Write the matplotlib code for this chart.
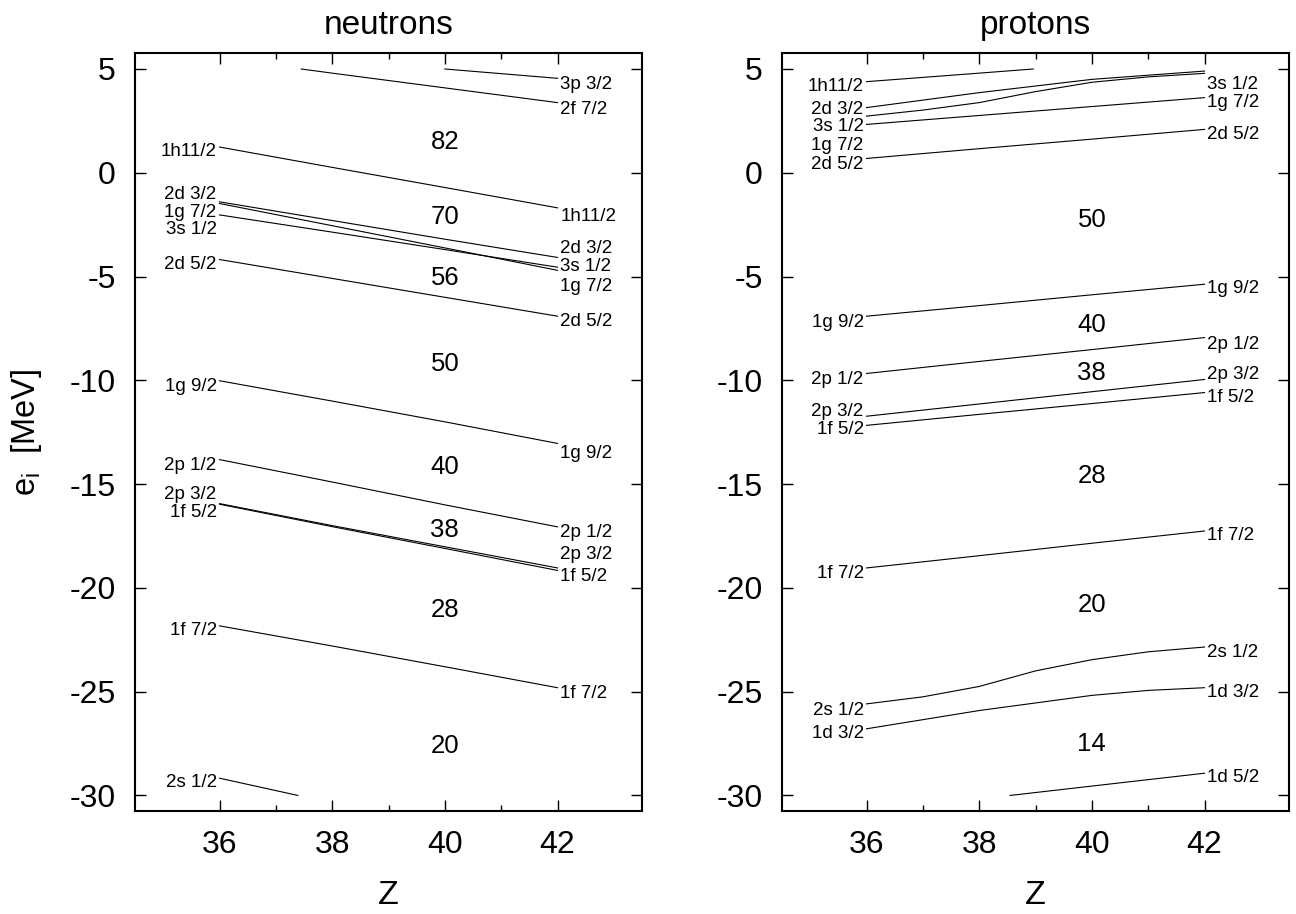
import matplotlib.pyplot as plt

plt.rcParams['font.family'] = ['Liberation Sans', 'DejaVu Sans']
plt.rcParams['mathtext.fontset'] = 'custom'
plt.rcParams['mathtext.rm'] = 'Liberation Sans'
plt.rcParams['mathtext.it'] = 'Liberation Sans:italic'
plt.rcParams['axes.unicode_minus'] = False

# neutron single-particle levels vs Z
n_names = ["3p 3/2", "2f 7/2", "1h11/2", "2d 3/2", "1g 7/2", "3s 1/2", "2d 5/2",
           "1g 9/2", "2p 1/2", "2p 3/2", "1f 5/2", "1f 7/2", "2s 1/2"]
n_z = [[40, 42], [37.45, 38, 40, 42], [36, 38, 40, 42], [36, 38, 40, 42],
       [36, 38, 40, 42], [36, 38, 40, 42], [36, 38, 40, 42], [36, 38, 40, 42],
       [36, 38, 40, 42], [36, 38, 40, 42], [36, 38, 40, 42], [36, 38, 40, 42],
       [36, 37.39]]
n_e = [[5.0, 4.55], [5.0, 4.80, 4.09, 3.38], [1.24, 0.26, -0.71, -1.69],
       [-1.40, -2.30, -3.20, -4.08], [-1.48, -2.55, -3.62, -4.70],
       [-2.03, -2.86, -3.70, -4.55], [-4.18, -5.09, -6.00, -6.91],
       [-10.02, -11.0, -12.0, -13.04], [-13.82, -14.9, -16.0, -17.06],
       [-15.94, -17.0, -18.02, -19.04], [-15.97, -17.05, -18.1, -19.16],
       [-21.83, -22.8, -23.8, -24.81], [-29.17, -30.0]]
n_left = [None, None, 1.01, -1.04, -1.91, -2.71, -4.40,
          -10.28, -14.09, -15.51, -16.39, -22.05, -29.39]
n_right = [4.26, 3.06, -2.12, -3.65, -5.50, -4.50, -7.18,
           -13.53, -17.31, -18.40, -19.45, -25.07, None]
n_magic = ["82", "70", "56", "50", "40", "38", "28", "20"]
n_magic_e = [1.5, -2.12, -5.09, -9.19, -14.17, -17.23, -21.09, -27.64]

# proton single-particle levels vs Z
p_names = ["1h11/2", "2d 3/2", "3s 1/2", "1g 7/2", "2d 5/2", "1g 9/2", "2p 1/2",
           "2p 3/2", "1f 5/2", "1f 7/2", "2s 1/2", "1d 3/2", "1d 5/2"]
p_z = [[36, 38, 38.96], [36, 38, 40, 42], [36, 37, 38, 39, 40, 41, 42],
       [36, 38, 40, 42], [36, 38, 40, 42], [36, 38, 40, 42], [36, 38, 40, 42],
       [36, 38, 40, 42], [36, 38, 40, 42], [36, 38, 40, 42],
       [36, 37, 38, 39, 40, 41, 42], [36, 38, 40, 41, 42], [38.55, 40, 42]]
p_e = [[4.39, 4.80, 5.0], [3.14, 3.86, 4.50, 4.90],
       [2.73, 3.02, 3.38, 3.91, 4.36, 4.62, 4.79],
       [2.33, 2.76, 3.19, 3.62], [0.69, 1.16, 1.62, 2.09],
       [-6.91, -6.40, -5.88, -5.37], [-9.67, -9.09, -8.52, -7.94],
       [-11.73, -11.14, -10.55, -9.96], [-12.17, -11.64, -11.12, -10.59],
       [-19.04, -18.45, -17.85, -17.26],
       [-25.59, -25.25, -24.75, -24.0, -23.46, -23.08, -22.85],
       [-26.79, -25.91, -25.18, -24.94, -24.81], [-30.0, -29.55, -28.93]]
p_left = [4.15, 3.06, 2.25, 1.29, 0.42, -7.23, -9.96,
          -11.49, -12.37, -19.31, -25.9, -27.03, None]
p_right = [None, None, 4.23, 3.38, 1.82, -5.58, -8.26,
           -9.71, -10.85, -17.5, -23.1, -25.02, -29.15]
p_magic = ["50", "40", "38", "28", "20", "14"]
p_magic_e = [-2.28, -7.34, -9.64, -14.61, -20.84, -27.51]


def draw_panel(ax, title, names, zs, es, left, right, magic, magic_e):
    for i in range(len(names)):
        ax.plot(zs[i], es[i], color='black', linewidth=0.8)
        if left[i] is not None:
            ax.text(35.95, left[i], names[i], ha='right', va='center', fontsize=13.5)
        if right[i] is not None:
            ax.text(42.05, right[i], names[i], ha='left', va='center', fontsize=13.5)
    for i in range(len(magic)):
        ax.text(40, magic_e[i], magic[i], ha='center', va='center', fontsize=18.5)
    ax.set_xlim(34.5, 43.5)
    ax.set_ylim(-30.75, 5.77)
    ax.set_xticks([36, 38, 40, 42])
    ax.set_xticks([37, 39, 41], minor=True)
    ax.set_yticks([-30, -25, -20, -15, -10, -5, 0, 5])
    ax.tick_params(which='both', direction='in', top=True, right=True,
                   labelsize=23, width=1.0)
    ax.tick_params(which='major', length=8, pad=14)
    ax.tick_params(which='minor', length=4)
    for s in ax.spines.values():
        s.set_linewidth(1.5)
    ax.set_title(title, fontsize=24, pad=14)
    ax.set_xlabel("Z", fontsize=24.5, labelpad=14)


fig = plt.figure(figsize=(12.96, 9.14), dpi=100)
ax1 = fig.add_axes([0.1042, 0.1127, 0.3912, 0.8293])
ax2 = fig.add_axes([0.6034, 0.1127, 0.3912, 0.8293])
draw_panel(ax1, "neutrons", n_names, n_z, n_e, n_left, n_right, n_magic, n_magic_e)
draw_panel(ax2, "protons", p_names, p_z, p_e, p_left, p_right, p_magic, p_magic_e)
fig.text(26 / 1296, 1 - 432 / 914, r'e$_{\rm i}$  [MeV]', rotation=90,
         ha='center', va='center', fontsize=23.5)
fig.savefig("out.png", dpi=100)
